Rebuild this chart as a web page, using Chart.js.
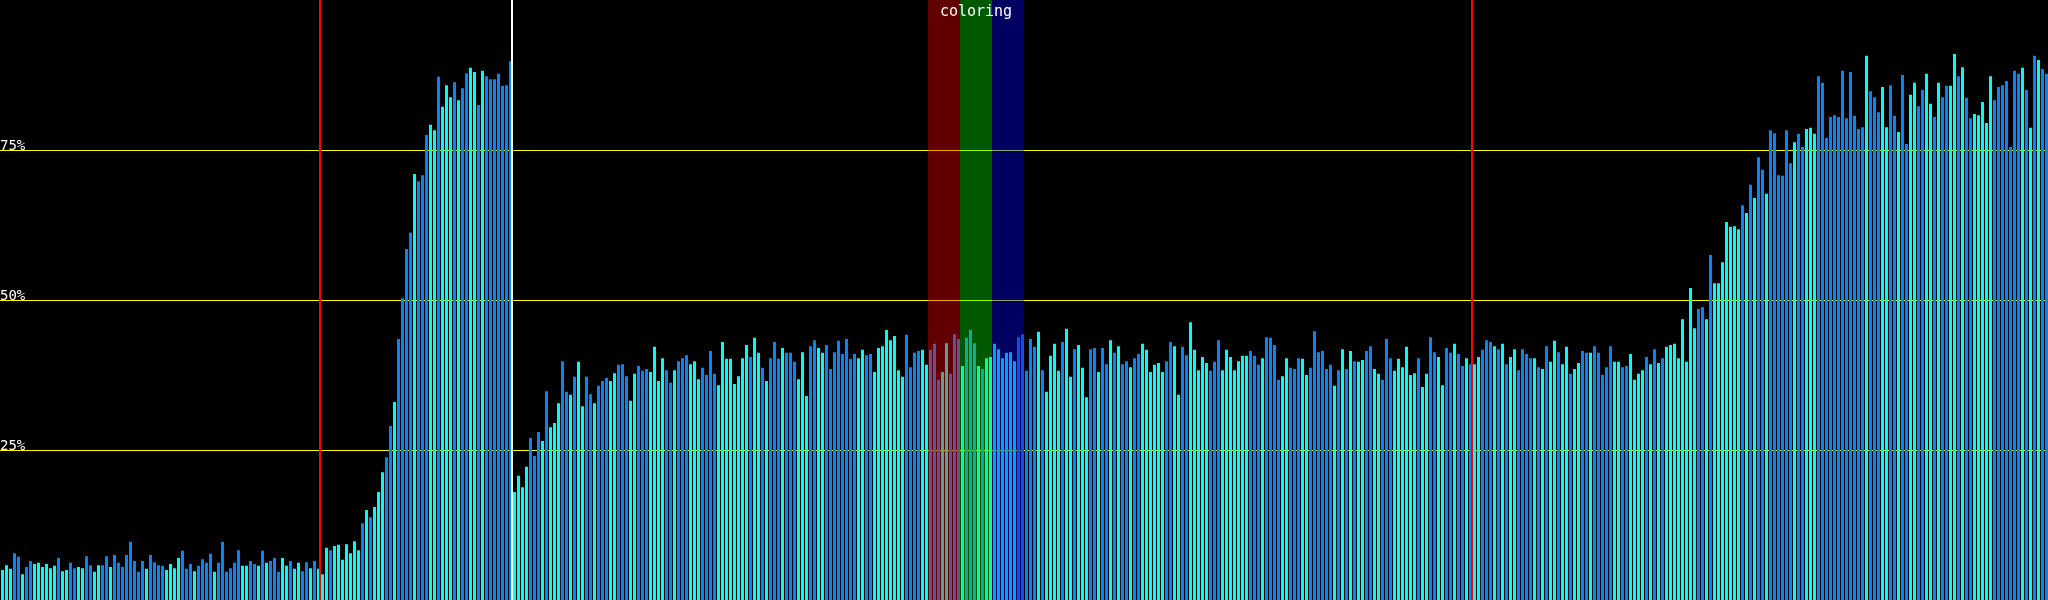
<!DOCTYPE html>
<html>
<head>
<meta charset="utf-8">
<title>coloring</title>
<script src="https://cdn.jsdelivr.net/npm/chart.js@4/dist/chart.umd.min.js"></script>
<style>
	html, body { margin: 0; padding: 0; background: #000; }
	canvas { display: block; }
</style>
</head>
<body>
<canvas id="chart" width="2048" height="600"></canvas>
<script>
'use strict'

// values in %, one per sample (512 samples)
var values = [
	5.0, 5.8, 5.2, 7.8, 7.2, 4.3, 5.5, 6.5, 6.0, 6.2,
	5.5, 6.0, 5.3, 5.7, 7.0, 4.8, 5.0, 6.2, 5.3, 5.5,
	5.3, 7.3, 5.8, 4.7, 5.8, 5.8, 7.3, 5.5, 7.5, 6.2,
	5.5, 7.5, 9.7, 6.5, 4.7, 6.5, 5.2, 7.5, 6.3, 5.8,
	5.7, 5.0, 6.0, 5.3, 7.0, 8.2, 5.2, 6.0, 4.8, 5.7,
	6.8, 6.2, 7.7, 4.7, 6.2, 9.7, 4.7, 5.3, 6.2, 8.3,
	5.7, 5.7, 6.5, 6.0, 5.7, 8.2, 6.2, 6.5, 7.0, 4.7,
	7.0, 5.7, 6.5, 5.2, 6.2, 4.8, 6.3, 5.3, 6.5, 5.2,
	4.3, 8.7, 8.3, 9.0, 9.2, 6.7, 9.3, 7.8, 9.8, 8.3,
	12.8, 15.0, 13.8, 15.5, 18.0, 21.3, 23.8, 29.0, 33.0, 43.5,
	50.3, 58.5, 61.2, 71.0, 69.8, 70.8, 77.5, 79.2, 78.3, 87.2,
	82.2, 85.8, 83.8, 86.3, 83.3, 85.3, 87.8, 88.7, 88.0, 82.5,
	88.2, 87.3, 86.8, 86.8, 87.7, 85.7, 85.8, 89.8,
	18.0, 20.7, 18.8, 22.2, 27.0, 24.0, 28.0, 26.5, 34.8, 28.8, 29.5, 32.8,
	39.8, 34.7, 34.2, 37.2, 39.7, 32.3, 37.2, 34.3, 32.8, 35.7,
	36.5, 37.0, 36.5, 37.8, 39.2, 39.3, 37.3, 33.2, 37.7, 39.0, 38.2, 38.5,
	38.0, 42.2, 36.5, 40.3, 38.3, 36.2, 38.3, 39.8,
	40.3, 40.8, 39.3, 39.8, 36.8, 38.7, 37.5, 41.5, 37.7, 35.8,
	43.0, 40.2, 40.2, 36.0, 37.3, 40.3, 42.5, 40.5, 43.7, 41.2,
	38.7, 36.5, 40.3, 43.0, 40.2, 42.0, 41.2, 41.2, 39.7, 36.8,
	41.3, 34.0, 42.3, 43.3, 42.0, 41.2, 42.5, 38.5, 41.3, 43.2,
	41.0, 43.5, 40.2, 41.0, 40.3, 41.7, 40.8, 41.0, 38.0, 42.0,
	42.3, 45.0, 43.3, 44.0, 38.3, 37.2, 44.2, 38.8, 41.2, 41.5,
	41.7, 39.2, 41.7, 42.7, 36.7, 38.0, 42.8, 37.7, 44.3, 43.5,
	39.0, 43.7, 45.0, 42.8, 39.0, 38.5, 40.3, 40.5, 42.7, 41.8,
	40.3, 41.2, 41.3, 39.8, 43.8, 44.3, 38.2, 43.5, 42.2, 44.7,
	38.3, 34.7, 40.7, 42.7, 38.2, 43.0, 45.2, 37.2, 41.8, 42.5,
	38.7, 33.8, 41.8, 42.0, 38.0, 42.0, 39.3, 43.3, 41.2, 42.3,
	39.3, 39.8, 38.8, 40.3, 41.0, 42.7, 41.7, 38.0, 39.2, 39.5,
	38.0, 39.8, 43.0, 42.3, 34.2, 42.2, 40.8, 46.3, 41.7, 38.3,
	40.5, 39.5, 38.2, 39.7, 43.3, 38.3, 41.7, 40.5, 38.3, 39.8,
	40.7, 40.7, 41.5, 40.7, 39.2, 40.3, 43.8, 43.7, 42.5, 36.7,
	37.3, 40.3, 38.7, 38.5, 40.3, 40.2, 37.5, 38.7, 44.8, 41.3,
	41.5, 38.5, 39.2, 35.7, 38.3, 41.8, 38.5, 41.5, 39.8, 39.7,
	40.0, 41.5, 42.3, 38.5, 37.7, 36.7, 43.5, 40.3, 38.2, 40.2,
	38.8, 42.2, 37.5, 37.8, 40.3, 35.5, 37.7, 43.8, 41.3, 40.5,
	35.8, 42.0, 41.2, 42.7, 41.0, 39.0, 40.3, 39.3, 39.3, 40.5,
	41.7, 43.3, 43.0, 42.3, 41.8, 42.7, 39.3, 40.5, 41.8, 38.3,
	41.8, 41.0, 40.3, 40.3, 38.8, 38.5, 42.3, 39.7, 43.2, 41.3,
	39.3, 42.2, 37.7, 38.5, 39.5, 41.5, 41.2, 41.2, 42.3, 41.2,
	37.5, 38.8, 42.3, 39.7, 39.7, 38.8, 39.0, 41.0, 36.7, 37.7,
	38.3, 40.5, 39.3, 41.8, 39.5, 40.3, 42.2, 42.5, 42.7, 40.3,
	46.8, 39.7, 52.0, 45.3, 48.5, 48.8, 46.8, 57.5, 52.8, 52.8,
	56.3, 63.0, 62.2, 62.3, 61.8, 65.8, 64.5, 69.2, 67.0, 73.8,
	71.7, 67.7, 78.3, 77.8, 70.8, 70.7, 78.3, 72.8, 76.3, 77.7,
	75.5, 78.5, 78.7, 77.7, 87.3, 86.2, 77.0, 80.5, 80.8, 80.5,
	88.2, 80.3, 88.0, 80.7, 78.5, 78.8, 90.7, 84.8, 83.8, 81.3,
	85.5, 78.8, 85.8, 80.7, 78.0, 87.5, 76.0, 84.2, 86.2, 82.3,
	85.0, 87.7, 82.7, 80.5, 86.2, 83.8, 85.7, 85.7, 91.0, 87.3,
	88.8, 83.7, 80.3, 81.0, 80.8, 83.0, 79.5, 87.3, 83.3, 85.5,
	85.8, 86.5, 75.5, 88.2, 87.7, 88.7, 85.0, 78.7, 90.7, 90.0, 88.5, 87.7
];

// kind of each sample: 0 or 1
var kinds = [
	0,0,0,1,1,0,1,1,0,0, 0,0,0,0,1,0,0,1,1,0, 0,1,1,0,0,1,1,0,1,1, 1,1,1,1,1,1,0,1,1,1,
	1,0,0,0,0,1,1,1,0,1, 1,1,1,0,1,1,1,1,1,1, 0,0,1,1,0,1,0,1,1,1, 0,0,1,0,0,1,1,0,1,0,
	0,0,1,0,0,0,0,0,0,0, 1,0,1,0,0,0,1,1,0,1, 1,1,1,0,1,1,1,0,0,1, 0,0,0,1,0,1,1,0,0,1,
	0,1,1,1,1,1,1,1,
	0,0,0,0,1,1,1,0,1,0,0,0, 1,1,0,1,0,0,1,1,0,1, 1,1,0,0,1,1,1,0,0,1,1,1,
	0,0,0,0,1,1,0,1, 1,1,0,0,0,1,1,1,1,0, 0,0,0,0,0,0,0,1,0,0, 1,0,1,1,1,0,1,1,1,0,
	0,0,1,1,0,0,1,1,1,1, 1,1,1,1,0,0,1,1,0,0, 0,0,0,0,0,0,1,1,1,1, 0,0,1,1,1,0,0,1,1,1,
	0,1,1,1,0,1,0,0, 0,0,0,0,0,0,1,1,
	1,1,1,0,1,0,0,0,0,1,0,0,1,0,
	0,0,1,1,0,1,1,0,1,0, 1,1,0,1,1,0,0,0,0,0, 0,1,1,0,0,1,1,0,0,0, 0,0,1,1,1,0,0,0,0,0,
	0,0,1,1,1,0,1,1,1,1, 0,0,1,1,1,0,0,1,1,1, 1,1,1,0,1,0,1,0,1,0, 0,1,1,0,0,1,1,1,0,0,
	0,0,0,0,1,0,0,1,1,0, 0,1,1,0,1,1,0,1,0,0, 1,1,1,0,1,0,1,0,0,1, 1,1,1,0,1,0,1,0,0,1,
	0,0,1,0,0,1,1,0,1,1,
	1,1,1,0,0,1,1,0,0,0, 0,1,0,1,0,1,0,0,0,0, 0,0,0,0,1,1,0,1,0,0, 0,0,0,0,0,1,0,1,0,1,
	1,0,1,1,1,1,1,1,0,1, 1,0,0,0,1,1,1,1,1,1, 1,1,
	1,1,1,1,0,1,1,1, 0,0,1,1,0,1,1,0,0,1, 1,0,0,1,0,1,1,0,0,1, 0,1,1,0,0,0,0,0,1,1,
	1,1,1,1,1,0,1,0,1,0,1,1
];

var categories = values.map(function (v, i) { return String(i + 1); });

// y axis ticks that carry a label
var tickValues = [25, 50, 75];
var tickLabels = ['25%', '50%', '75%'];

// vertical markers: sample index where the line sits (left edge)
var markerAt = [80, 128, 368];
var markerKind = ['red', 'white', 'red'];

// "coloring" bands: first and last sample of each band
var bandFrom = [232, 240, 248];
var bandTo = [239, 247, 255];
var bandTitle = 'coloring';

var kindColor = ['#00ffee', '#0a84f0'];
var markerColor = { red: '#ff0000', white: '#ffffff' };
var bandColor = ['rgba(255,0,0,0.38)', 'rgba(0,255,0,0.35)', 'rgba(0,0,255,0.38)'];

// bars are 3px on a 4px pitch, shift half a pixel so they land on whole pixels
var crispBars = {
	id: 'crispBars',
	beforeDatasetsDraw: function (chart) {
		chart.ctx.save();
		chart.ctx.translate(0.5, 0);
	},
	afterDatasetsDraw: function (chart) {
		chart.ctx.restore();
	}
};

// bands and marker lines, drawn over bars but under the yellow grid
var overlay = {
	id: 'overlay',
	afterDatasetsDraw: function (chart) {
		var ctx = chart.ctx,
			x = chart.scales.x,
			area = chart.chartArea,
			half = (x.getPixelForValue(1) - x.getPixelForValue(0)) / 2;

		ctx.save();
		bandFrom.forEach(function (from, i) {
			var left = x.getPixelForValue(from) - half,
				right = x.getPixelForValue(bandTo[i]) + half;
			ctx.fillStyle = bandColor[i];
			ctx.fillRect(left, area.top, right - left, area.bottom - area.top);
		});

		markerAt.forEach(function (idx, i) {
			var px = Math.round(x.getPixelForValue(idx) - half);
			ctx.fillStyle = markerColor[markerKind[i]];
			ctx.fillRect(px - 1, area.top, 2, area.bottom - area.top);
		});

		var mid = (x.getPixelForValue(bandFrom[0]) + x.getPixelForValue(bandTo[bandTo.length - 1])) / 2;
		ctx.fillStyle = '#ffffff';
		ctx.font = '15px "DejaVu Sans Mono"';
		ctx.textAlign = 'center';
		ctx.textBaseline = 'top';
		ctx.fillText(bandTitle, mid, 5);
		ctx.restore();
	}
};

new Chart(document.getElementById('chart'), {
	type: 'bar',
	data: {
		labels: categories,
		datasets: [{
			data: values,
			backgroundColor: kinds.map(function (k) { return kindColor[k]; }),
			borderWidth: 0,
			barPercentage: 0.75,
			categoryPercentage: 1.0
		}]
	},
	options: {
		responsive: false,
		animation: false,
		layout: { padding: 0 },
		plugins: {
			legend: { display: false },
			tooltip: { enabled: false }
		},
		scales: {
			x: { display: false },
			y: {
				min: 0,
				max: 100,
				z: 1,
				afterFit: function (scale) {
					scale.paddingTop = 0;
					scale.paddingBottom = 0;
				},
				border: { display: false },
				grid: { color: '#ffff00', lineWidth: 1, drawTicks: false },
				ticks: {
					stepSize: 25,
					mirror: true,
					padding: 0,
					labelOffset: -4,
					color: '#ffffff',
					font: { family: 'DejaVu Sans Mono', size: 14 },
					callback: function (v) {
						var idx = tickValues.indexOf(v);
						return idx < 0 ? null : tickLabels[idx];
					}
				}
			}
		}
	},
	plugins: [crispBars, overlay]
});
</script>
</body>
</html>
